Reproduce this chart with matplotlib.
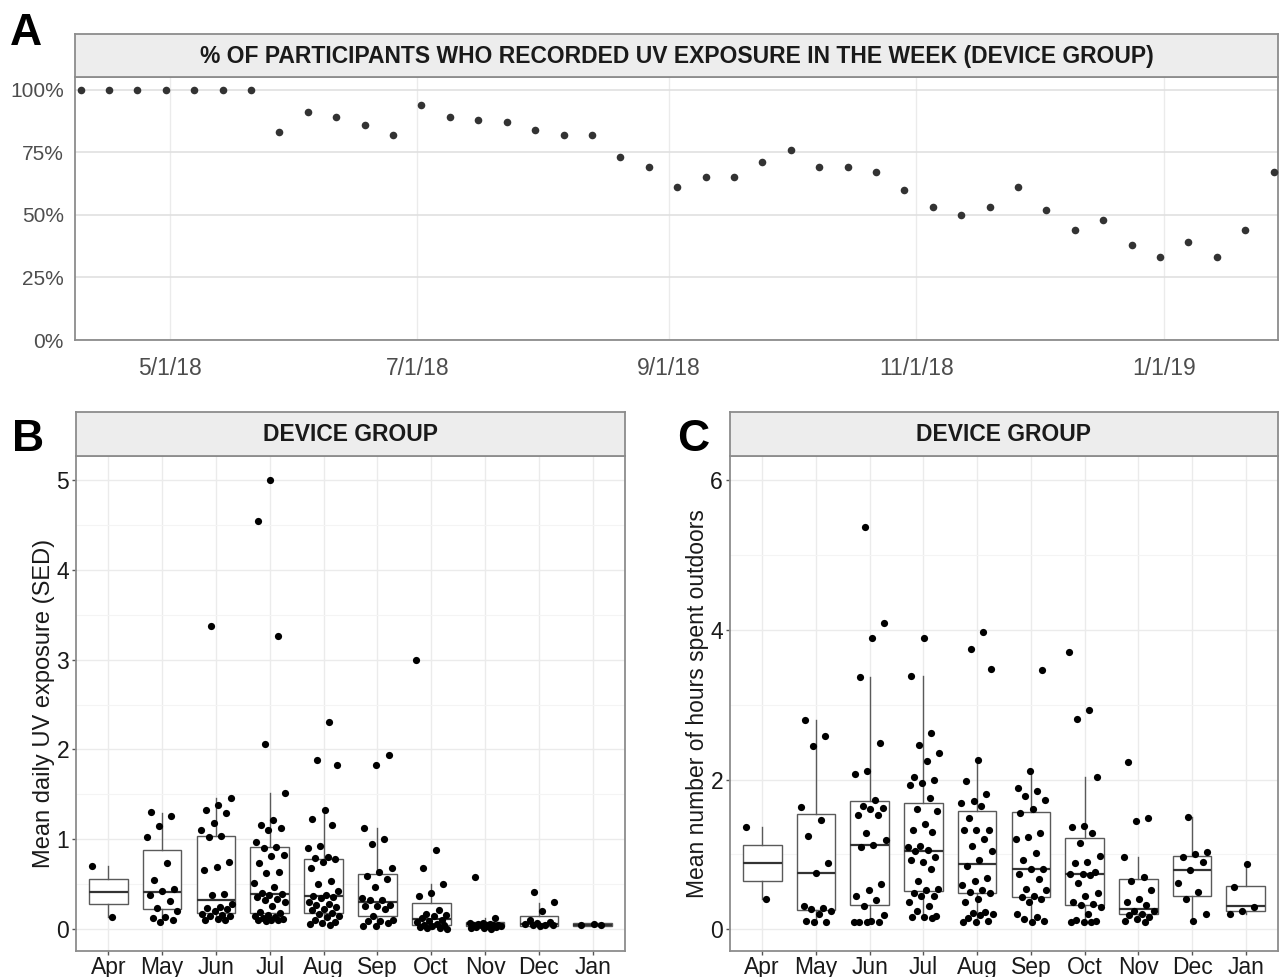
import numpy as np
import pandas as pd
import matplotlib
matplotlib.use("Agg")
import matplotlib.pyplot as plt
import matplotlib.dates as mdates

plt.rcParams['font.family'] = ['Liberation Sans', 'DejaVu Sans']

# ---- panel A: weekly % of participants with UV exposure recorded
week_start = '2018-04-09'
pct_recorded = [100, 100, 100, 100, 100, 100, 100, 83, 91, 89, 86, 82, 94, 89, 88,
                87, 84, 82, 82, 73, 69, 61, 65, 65, 71, 76, 69, 69, 67, 60, 53, 50,
                53, 61, 52, 44, 48, 38, 33, 39, 33, 44, 67]
weeks = pd.date_range(week_start, periods=len(pct_recorded), freq='7D')

months = ['Apr', 'May', 'Jun', 'Jul', 'Aug', 'Sep', 'Oct', 'Nov', 'Dec', 'Jan']

# ---- panel B: mean daily UV exposure (SED) per participant, by month
uv_points = [
    [0.70, 0.13],
    [1.30, 1.26, 1.15, 1.02, 0.73, 0.55, 0.45, 0.42, 0.38, 0.31, 0.23, 0.20, 0.13, 0.12, 0.10, 0.08],
    [3.38, 1.46, 1.38, 1.33, 1.29, 1.18, 1.10, 1.04, 1.02, 0.75, 0.69, 0.66, 0.39, 0.38, 0.28, 0.25,
     0.23, 0.22, 0.20, 0.17, 0.16, 0.15, 0.14, 0.11, 0.10, 0.10],
    [5.00, 4.55, 3.26, 2.06, 1.51, 1.21, 1.16, 1.12, 1.10, 0.97, 0.91, 0.90, 0.82, 0.81, 0.74, 0.63,
     0.62, 0.51, 0.47, 0.40, 0.39, 0.38, 0.36, 0.33, 0.32, 0.30, 0.26, 0.19, 0.18, 0.16, 0.14, 0.13,
     0.12, 0.11, 0.10, 0.10, 0.10, 0.09],
    [2.31, 1.88, 1.83, 1.33, 1.23, 1.16, 0.93, 0.90, 0.80, 0.79, 0.78, 0.75, 0.68, 0.54, 0.50, 0.42,
     0.38, 0.37, 0.36, 0.34, 0.30, 0.28, 0.27, 0.25, 0.22, 0.21, 0.18, 0.17, 0.15, 0.13, 0.10, 0.08,
     0.07, 0.06, 0.04],
    [1.94, 1.83, 1.12, 1.00, 0.95, 0.68, 0.63, 0.59, 0.56, 0.47, 0.34, 0.32, 0.32, 0.27, 0.26, 0.26,
     0.22, 0.15, 0.10, 0.09, 0.09, 0.07, 0.03, 0.03],
    [3.00, 0.88, 0.68, 0.50, 0.40, 0.37, 0.21, 0.17, 0.16, 0.15, 0.12, 0.10, 0.09, 0.08, 0.06, 0.05,
     0.04, 0.03, 0.02, 0.01, 0.01, 0.00],
    [0.58, 0.12, 0.07, 0.07, 0.06, 0.06, 0.05, 0.05, 0.05, 0.04, 0.04, 0.03, 0.03, 0.02, 0.02, 0.01,
     0.01, 0.00],
    [0.41, 0.30, 0.20, 0.10, 0.08, 0.07, 0.06, 0.05, 0.05, 0.04, 0.03],
    [0.06, 0.05, 0.04],
]
uv_q1 = [0.275, 0.22, 0.18, 0.175, 0.175, 0.14, 0.05, 0.03, 0.03, 0.03]
uv_med = [0.415, 0.41, 0.32, 0.39, 0.37, 0.30, 0.11, 0.06, 0.06, 0.045]
uv_q3 = [0.555, 0.88, 1.035, 0.91, 0.78, 0.61, 0.285, 0.08, 0.14, 0.065]
uv_lo = [0.13, 0.08, 0.10, 0.09, 0.04, 0.03, 0.0, 0.0, 0.0, 0.03]
uv_hi = [0.70, 1.29, 1.46, 1.51, 1.33, 1.12, 0.50, 0.12, 0.29, 0.065]

# ---- panel C: mean hours spent outdoors per participant, by month
hrs_points = [
    [1.36, 0.40],
    [2.80, 2.58, 2.45, 1.63, 1.46, 1.25, 0.89, 0.75, 0.31, 0.29, 0.27, 0.25, 0.21, 0.11, 0.10, 0.10],
    [5.37, 4.09, 3.89, 3.37, 2.49, 2.11, 2.08, 1.73, 1.65, 1.62, 1.60, 1.53, 1.52, 1.28, 1.19, 1.13,
     1.10, 0.61, 0.52, 0.45, 0.39, 0.31, 0.19, 0.11, 0.10, 0.10, 0.10, 0.10],
    [3.89, 3.38, 2.62, 2.46, 2.36, 2.25, 2.04, 2.00, 1.95, 1.93, 1.75, 1.61, 1.58, 1.41, 1.32, 1.30,
     1.11, 1.10, 1.06, 1.05, 0.96, 0.90, 0.93, 0.81, 0.65, 0.54, 0.52, 0.49, 0.45, 0.45, 0.36, 0.31,
     0.25, 0.18, 0.17, 0.16, 0.15],
    [3.97, 3.74, 3.47, 2.26, 1.98, 1.80, 1.71, 1.68, 1.65, 1.49, 1.33, 1.33, 1.32, 1.21, 1.11, 1.05,
     0.93, 0.84, 0.68, 0.64, 0.59, 0.53, 0.50, 0.48, 0.41, 0.36, 0.23, 0.22, 0.20, 0.19, 0.15, 0.11,
     0.10, 0.10],
    [3.46, 2.11, 1.88, 1.85, 1.78, 1.73, 1.60, 1.55, 1.28, 1.23, 1.20, 1.02, 0.93, 0.80, 0.80, 0.74,
     0.67, 0.54, 0.52, 0.45, 0.43, 0.40, 0.37, 0.20, 0.17, 0.14, 0.11, 0.10],
    [3.70, 2.93, 2.81, 2.04, 1.38, 1.37, 1.29, 1.15, 0.98, 0.90, 0.88, 0.77, 0.74, 0.74, 0.73, 0.62,
     0.49, 0.45, 0.37, 0.34, 0.32, 0.30, 0.20, 0.13, 0.11, 0.10, 0.10, 0.10],
    [2.23, 1.49, 1.44, 0.96, 0.70, 0.64, 0.53, 0.40, 0.36, 0.32, 0.25, 0.24, 0.21, 0.19, 0.17, 0.14,
     0.11, 0.10],
    [1.50, 1.03, 1.01, 0.97, 0.90, 0.79, 0.62, 0.50, 0.40, 0.20, 0.11],
    [0.87, 0.57, 0.30, 0.25, 0.20],
]
hrs_q1 = [0.645, 0.255, 0.32, 0.51, 0.48, 0.43, 0.33, 0.20, 0.45, 0.25]
hrs_med = [0.885, 0.75, 1.13, 1.05, 0.87, 0.81, 0.735, 0.27, 0.79, 0.31]
hrs_q3 = [1.12, 1.545, 1.71, 1.68, 1.58, 1.56, 1.22, 0.67, 0.98, 0.575]
hrs_lo = [0.40, 0.11, 0.11, 0.14, 0.11, 0.11, 0.11, 0.11, 0.11, 0.21]
hrs_hi = [1.36, 2.79, 3.37, 3.385, 2.26, 2.10, 2.04, 0.96, 1.50, 0.87]

W, H = 1280, 977
BORDER = '#8c8c8c'
GRID = '#ebebeb'
GRID_MINOR = '#f4f4f4'


def px_axes(fig, x0, y0, x1, y1):
    # pixel box (top-left origin) -> axes
    return fig.add_axes([x0 / W, 1 - y1 / H, (x1 - x0) / W, (y1 - y0) / H])


def strip(fig, x0, y0, x1, y1, text):
    s = px_axes(fig, x0, y0, x1, y1)
    s.set_facecolor('#ededed')
    s.set_xticks([])
    s.set_yticks([])
    for sp in s.spines.values():
        sp.set_color(BORDER)
        sp.set_linewidth(1.3)
    s.text(0.5, 0.48, text, ha='center', va='center', fontsize=16.5,
           fontweight='bold', color='#1a1a1a', transform=s.transAxes)


def style_panel(ax):
    ax.set_facecolor('white')
    for sp in ax.spines.values():
        sp.set_color(BORDER)
        sp.set_linewidth(1.3)
    ax.set_axisbelow(True)


fig = plt.figure(figsize=(W / 100, H / 100), dpi=100)

# ---------- A
axA = px_axes(fig, 75, 77, 1278, 340)
style_panel(axA)
axA.scatter(weeks, pct_recorded, s=30, color='#333333', zorder=3, linewidths=0)
axA.set_ylim(0, 105)
axA.set_yticks([0, 25, 50, 75, 100])
axA.set_yticklabels(['0%', '25%', '50%', '75%', '100%'])
may1 = mdates.date2num(pd.Timestamp('2018-05-01'))
jan1 = mdates.date2num(pd.Timestamp('2019-01-01'))
axA.set_xlim(may1 - 23.4, jan1 + 28.1)
axA.set_xticks(pd.to_datetime(['2018-05-01', '2018-07-01', '2018-09-01', '2018-11-01', '2019-01-01']))
axA.xaxis.set_major_formatter(mdates.DateFormatter('%-m/%-d/%y'))
axA.grid(True, axis='y', color='#dedede', linewidth=1.1)
axA.grid(True, axis='x', color=GRID, linewidth=1.0)
axA.tick_params(axis='y', length=0, pad=8, labelsize=15, labelcolor='#4d4d4d')
axA.tick_params(axis='x', length=0, pad=12, labelsize=16.5, labelcolor='#4d4d4d')
strip(fig, 75, 34, 1278, 77,
      '% OF PARTICIPANTS WHO RECORDED UV EXPOSURE IN THE WEEK (DEVICE GROUP)')


def box_panel(ax, points, q1, med, q3, lo, hi):
    style_panel(ax)
    stats = []
    for i in range(len(months)):
        stats.append({'q1': q1[i], 'med': med[i], 'q3': q3[i],
                      'whislo': lo[i], 'whishi': hi[i], 'fliers': []})
    ax.bxp(stats, positions=np.arange(len(months)), widths=0.72, showfliers=False,
           patch_artist=True, manage_ticks=False,
           boxprops=dict(facecolor='white', edgecolor='#5a5a5a', linewidth=1.0),
           medianprops=dict(color='#333333', linewidth=1.6),
           whiskerprops=dict(color='#5a5a5a', linewidth=1.0),
           capprops=dict(linewidth=0), zorder=2)
    for i, vals in enumerate(points):
        n = len(vals)
        off = ((np.arange(n) * 0.618034 + 0.17 * i) % 1 - 0.5) * 0.6
        ax.scatter(i + off, vals, s=27, color='black', zorder=3, linewidths=0)
    ax.set_xlim(-0.6, len(months) - 0.4)
    ax.set_xticks(np.arange(len(months)))
    ax.set_xticklabels(months)
    ax.grid(True, which='major', color=GRID, linewidth=1.0)
    ax.grid(True, which='minor', axis='y', color=GRID_MINOR, linewidth=0.8)
    ax.tick_params(axis='both', which='major', length=3, width=1.0, color='#555555',
                   labelsize=16.5, labelcolor='#1a1a1a')
    ax.tick_params(axis='x', which='major', pad=0.5)
    ax.tick_params(axis='y', which='major', pad=2)
    ax.tick_params(axis='both', which='minor', length=0)


# ---------- B
axB = px_axes(fig, 76, 456, 625, 951)
box_panel(axB, uv_points, uv_q1, uv_med, uv_q3, uv_lo, uv_hi)
axB.set_ylim(-0.245, 5.27)
axB.set_yticks([0, 1, 2, 3, 4, 5])
axB.set_yticks(np.arange(0.5, 5.5, 1.0), minor=True)
axB.set_ylabel('Mean daily UV exposure (SED)', fontsize=17, color='#1a1a1a', labelpad=1)
strip(fig, 76, 412, 625, 456, 'DEVICE GROUP')

# ---------- C
axC = px_axes(fig, 730, 456, 1278, 951)
box_panel(axC, hrs_points, hrs_q1, hrs_med, hrs_q3, hrs_lo, hrs_hi)
axC.set_ylim(-0.29, 6.32)
axC.set_yticks([0, 2, 4, 6])
axC.set_yticks([1, 3, 5], minor=True)
axC.set_ylabel('Mean number of hours spent outdoors', fontsize=16.5, color='#1a1a1a', labelpad=1)
strip(fig, 730, 412, 1278, 456, 'DEVICE GROUP')

# panel letters
fig.text(10 / W, 1 - 45 / H, 'A', fontsize=32, fontweight='bold', ha='left', va='baseline')
fig.text(12 / W, 1 - 451 / H, 'B', fontsize=32, fontweight='bold', ha='left', va='baseline')
fig.text(677 / W, 1 - 451 / H, 'C', fontsize=32, fontweight='bold', ha='left', va='baseline')

fig.savefig('out.png', dpi=100)
